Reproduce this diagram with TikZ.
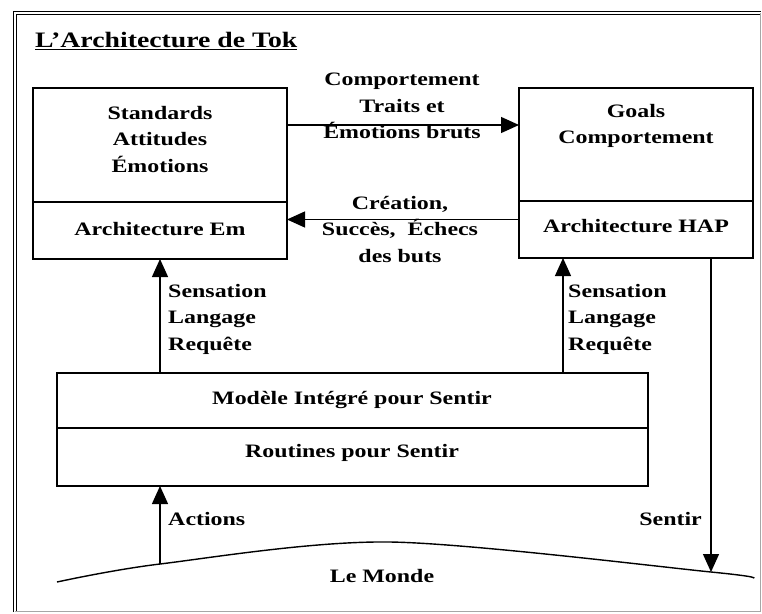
\documentclass[tikz,border=0pt]{standalone}
\usepackage{fontspec}
\setmainfont{Liberation Serif}[FakeStretch=1.26]
\usetikzlibrary{arrows.meta,calc,positioning}

\begin{document}
\begin{tikzpicture}[x=0.03cm, y=-0.03cm,
  box/.style={draw, line width=1.3pt, inner sep=0pt, outer sep=0pt},
  txt/.style={font={\fontsize{16.2pt}{22.6pt}\selectfont\bfseries}, inner sep=0pt, align=center},
  flow/.style={line width=1.1pt, -{Triangle[length=5.4mm, width=4.8mm]}},
  rim/.style={line width=1.2pt}]
  \def\pix{0.03cm}

  % Fixed bounding box
  \path[use as bounding box] (0,0) rectangle (762,613);

  % Outer frame
  \draw[line width=0.9pt, double, double distance=2.3pt] (15,612) |- (761,13);
  \draw[line width=0.8pt, black!35] (15,611) -| (760,13);

  % Title
  \node[txt, anchor=base west] (title) at (35,47) {\fontsize{18.8pt}{22pt}\selectfont\underline{L’Architecture de Tok}};

  % Architecture Em (left box)
  \node[box, anchor=north west, minimum width=254*\pix, minimum height=114*\pix] (emup) at (33,88) {};
  \node[box, anchor=north, minimum width=254*\pix, minimum height=57*\pix] (emlo) at (emup.south) {};
  \node[txt, anchor=north] (emtxt) at (160,106) {Standards\\Attitudes\\Émotions};
  \node[txt, anchor=base] (emname) at (160,235) {Architecture Em};

  % Architecture HAP (right box)
  \node[box, anchor=north west, minimum width=234*\pix, minimum height=113*\pix] (hapup) at (519,88) {};
  \node[box, anchor=north, minimum width=234*\pix, minimum height=57*\pix] (haplo) at (hapup.south) {};
  \node[txt, anchor=north] (haptxt) at (636,104) {Goals\\Comportement};
  \node[txt, anchor=base] (hapname) at (636,232) {Architecture HAP};

  % Sensing model (wide box)
  \node[box, anchor=north west, minimum width=591*\pix, minimum height=55*\pix] (modup) at (57,373) {};
  \node[box, anchor=north, minimum width=591*\pix, minimum height=58*\pix] (modlo) at (modup.south) {};
  \node[txt, anchor=base] (modtxt) at (352,404) {Modèle Intégré pour Sentir};
  \node[txt, anchor=base] (routtxt) at (352,457) {Routines pour Sentir};

  % Em -> HAP and back
  \coordinate (fwd) at ([yshift=-37*\pix]emup.north east);
  \draw[flow] (fwd) -- (fwd -| hapup.west);
  \node[txt, anchor=north] (emit) at (402,73) {Comportement\\Traits et\\Émotions bruts};
  \coordinate (back) at ([yshift=10*\pix]haplo.west);
  \draw[flow] (back) -- (back -| emlo.east);
  \node[txt, anchor=north] (goal) at (400,196) {Création,\\Succès,~ Échecs\\des buts};

  % Sensing model -> both architectures
  \coordinate (sr) at ([xshift=-73*\pix]haplo.south);
  \draw[flow] (modup.north -| emlo.south) -- (emlo.south);
  \draw[flow] (modup.north -| sr) -- (sr);
  \node[txt, anchor=north west, align=left] (sensl) at (168,284) {Sensation\\Langage\\Requête};
  \node[txt, anchor=north west, align=left] (sensr) at (568,284) {Sensation\\Langage\\Requête};

  % The world
  \coordinate (wl) at (57,582);
  \coordinate (wa) at (160,564);
  \coordinate (wtop) at (390,542);
  \coordinate (ws) at (711,572);
  \coordinate (wr) at (753,578);
  \draw[rim] plot[smooth, tension=0.5] coordinates {(wl) (wa) (wtop) (ws) (wr)};
  \node[txt, anchor=base] (monde) at (382,582) {Le Monde};

  \draw[flow] (wa) -- (wa |- modlo.south);
  \node[txt, anchor=base west] (act) at (168,525) {Actions};
  \draw[flow] (haplo.south -| ws) -- (ws);
  \node[txt, anchor=base east] (sent) at (702,525) {Sentir};

\end{tikzpicture}
\end{document}
